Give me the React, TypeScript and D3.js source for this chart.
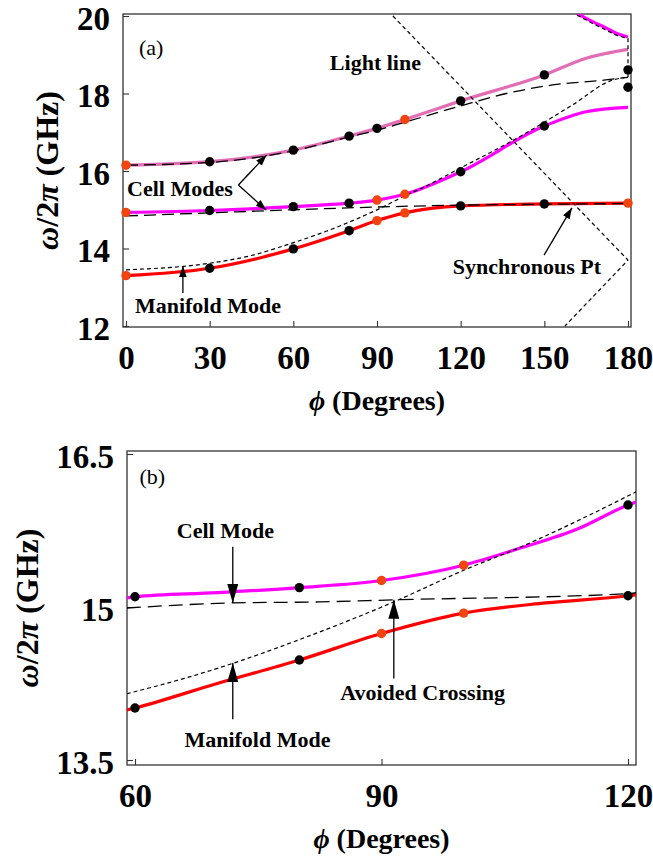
import React, { useRef, useEffect } from "react";
import * as d3 from "d3";

type Pt = [number, number];

// ---------- panel (a): 0..180 degrees ----------
const phiTicksA = [0, 30, 60, 90, 120, 150, 180];
const freqTicksA = [12, 14, 16, 18, 20];

// coupled modes (solid curves)
const manifoldCurveA: Pt[] = [[0, 13.3], [30, 13.49], [60, 13.99], [80, 14.46], [90, 14.72], [100, 14.92], [120, 15.1], [150, 15.15], [180, 15.17]];
const cellLowCurveA: Pt[] = [[0, 14.93], [30, 14.98], [60, 15.08], [80, 15.17], [90, 15.25], [100, 15.4], [120, 15.98], [150, 17.16], [165, 17.53], [180, 17.64]];
const cellHighCurveA: Pt[] = [[0, 16.15], [30, 16.24], [60, 16.54], [80, 16.9], [90, 17.1], [100, 17.33], [120, 17.81], [150, 18.48], [165, 18.91], [180, 19.14]];
const nextBandCurveA: Pt[] = [[161.6, 20.07], [167.5, 19.85], [172.4, 19.68], [176, 19.55], [180, 19.46]];

// uncoupled modes (dashed)
const uncCellLowA: Pt[] = [[0, 14.84], [30, 14.92], [60, 15.0], [90, 15.07], [120, 15.12], [150, 15.14], [180, 15.16]];
const uncCellHighA: Pt[] = [[0, 16.15], [30, 16.22], [60, 16.52], [80, 16.88], [90, 17.05], [100, 17.26], [120, 17.68], [137, 18.01], [153, 18.22], [172, 18.35], [180, 18.42]];
const uncManifoldA: Pt[] = [[0, 13.45], [30, 13.62], [45, 13.82], [60, 14.15], [72, 14.45], [80, 14.68], [91.5, 15.05], [100, 15.36], [107, 15.59], [120, 16.08], [141, 16.88], [160, 17.7], [174.6, 18.35], [180, 18.42]];
const uncManifoldFoldA: Pt[] = [[180, 18.42], [180, 19.42], [176, 19.5], [172, 19.64], [167, 19.82], [161, 20.05]];
const lightLineA: Pt[] = [[95.7, 20], [180, 13.7], [157.4, 12]];

// computed points
const manifoldBlackA: Pt[] = [[30, 13.49], [60, 13.99], [80, 14.46], [120, 15.1], [150, 15.15]];
const manifoldOrangeA: Pt[] = [[0, 13.3], [90, 14.72], [100, 14.92], [180, 15.17]];
const cellLowBlackA: Pt[] = [[30, 14.98], [60, 15.08], [80, 15.17], [120, 15.98], [150, 17.16]];
const cellLowOrangeA: Pt[] = [[0, 14.93], [90, 15.25], [100, 15.4]];
const cellHighBlackA: Pt[] = [[30, 16.24], [60, 16.54], [80, 16.9], [90, 17.1], [120, 17.81], [150, 18.48], [180, 18.61], [180, 18.16]];
const cellHighOrangeA: Pt[] = [[0, 16.15], [100, 17.33]];

// ---------- panel (b): zoom 60..120 degrees ----------
const phiTicksB = [60, 90, 120];
const freqTicksB = [13.5, 15, 16.5];

const manifoldCurveB: Pt[] = [[59, 13.99], [60, 14.01], [70, 14.25], [80, 14.48], [90, 14.74], [100, 14.94], [110, 15.04], [120, 15.11], [121, 15.12]];
const cellCurveB: Pt[] = [[59, 15.09], [60, 15.1], [70, 15.14], [80, 15.19], [90, 15.26], [100, 15.41], [107, 15.58], [114, 15.77], [120, 16.0], [121, 16.03]];
const uncCellB: Pt[] = [[59, 14.99], [72, 15.04], [82.5, 15.05], [91.5, 15.07], [120, 15.13], [121, 15.14]];
const uncManifoldB: Pt[] = [[59, 14.15], [66, 14.3], [72, 14.45], [80, 14.68], [91.5, 15.05], [100, 15.36], [107, 15.59], [114, 15.85], [121, 16.13]];

const manifoldBlackB: Pt[] = [[60, 14.01], [80, 14.48], [120, 15.11]];
const manifoldOrangeB: Pt[] = [[90, 14.74], [100, 14.94]];
const cellBlackB: Pt[] = [[60, 15.1], [80, 15.19], [120, 16.0]];
const cellOrangeB: Pt[] = [[90, 15.26], [100, 15.41]];

const FONT = "'Liberation Serif', 'Times New Roman', serif";
const RED = "#ff0000";
const MAGENTA = "#ff00ff";
const PINK = "#e26db5";
const ORANGE = "#f2440f";

interface PanelSpec {
  id: string;
  box: { left: number; right: number; top: number; bottom: number };
  xDomain: [number, number];
  xRange: [number, number];
  yDomain: [number, number];
  yRange: [number, number];
  xTicks: number[];
  yTicks: number[];
  yFormat: (v: number) => string;
  yLabelX: number;
}

export default function App() {
  const svgRef = useRef<SVGSVGElement>(null);

  useEffect(() => {
    if (!svgRef.current) return;
    const svg = d3.select(svgRef.current);
    svg.selectAll("*").remove();
    const defs = svg.append("defs");

    // arrow heads
    const addHead = (id: string, len: number, half: number) => {
      defs.append("marker")
        .attr("id", id)
        .attr("markerUnits", "userSpaceOnUse")
        .attr("viewBox", `0 0 ${len} ${half * 2}`)
        .attr("refX", len)
        .attr("refY", half)
        .attr("markerWidth", len)
        .attr("markerHeight", half * 2)
        .attr("orient", "auto")
        .append("path")
        .attr("d", `M0,0L${len},${half}L0,${half * 2}Z`)
        .attr("fill", "#000");
    };
    addHead("headA", 11, 3.8);
    addHead("headB", 19, 5.5);

    function setupPanel(spec: PanelSpec) {
      const { box } = spec;
      const x = d3.scaleLinear().domain(spec.xDomain).range(spec.xRange);
      const y = d3.scaleLinear().domain(spec.yDomain).range(spec.yRange);

      defs.append("clipPath")
        .attr("id", `${spec.id}-clip`)
        .append("rect")
        .attr("x", box.left)
        .attr("y", box.top)
        .attr("width", box.right - box.left)
        .attr("height", box.bottom - box.top);

      const g = svg.append("g");

      // bottom axis, ticks pointing inward
      const xa = g.append("g")
        .attr("transform", `translate(0,${box.bottom})`)
        .call(d3.axisBottom(x).tickValues(spec.xTicks).tickSize(-6).tickSizeOuter(0).tickPadding(19).tickFormat(d3.format("d")) as any);
      xa.select(".domain").remove();
      xa.selectAll("line").attr("stroke", "#333").attr("stroke-width", 1.1);
      xa.selectAll("text")
        .attr("font-family", FONT)
        .attr("font-size", 33)
        .attr("font-weight", "bold")
        .attr("fill", "#000");

      const ya = g.append("g")
        .attr("transform", `translate(${box.left},0)`)
        .call(d3.axisLeft(y).tickValues(spec.yTicks).tickSize(-6).tickSizeOuter(0).tickPadding(13).tickFormat(spec.yFormat as any) as any);
      ya.select(".domain").remove();
      ya.selectAll("line").attr("stroke", "#333").attr("stroke-width", 1.1);
      ya.selectAll("text")
        .attr("font-family", FONT)
        .attr("font-size", 33)
        .attr("font-weight", "bold")
        .attr("dy", "0.4em")
        .attr("fill", "#000");

      g.append("rect")
        .attr("x", box.left)
        .attr("y", box.top)
        .attr("width", box.right - box.left)
        .attr("height", box.bottom - box.top)
        .attr("fill", "none")
        .attr("stroke", "#333")
        .attr("stroke-width", 1.3);

      // axis titles
      const yl = g.append("text")
        .attr("transform", `translate(${spec.yLabelX},${(box.top + box.bottom) / 2}) rotate(-90)`)
        .attr("text-anchor", "middle")
        .attr("font-family", FONT)
        .attr("font-size", 32)
        .attr("font-weight", "bold");
      yl.append("tspan").attr("font-style", "italic").text("ω");
      yl.append("tspan").text("/2");
      yl.append("tspan").attr("font-style", "italic").text("π");
      yl.append("tspan").text(" (GHz)");

      const xl = g.append("text")
        .attr("x", (box.left + box.right) / 2)
        .attr("y", box.bottom + 83)
        .attr("text-anchor", "middle")
        .attr("font-family", FONT)
        .attr("font-size", 28)
        .attr("font-weight", "bold");
      xl.append("tspan").attr("font-style", "italic").text("ϕ");
      xl.append("tspan").text(" (Degrees)");

      const plot = g.append("g").attr("clip-path", `url(#${spec.id}-clip)`);
      return { x, y, g, plot };
    }

    type Panel = ReturnType<typeof setupPanel>;

    function drawSeries(p: Panel, data: Pt[], stroke: string, width: number, dash: string | null, curve: d3.CurveFactory = d3.curveMonotoneX) {
      const line = d3.line<Pt>()
        .x(d => p.x(d[0]))
        .y(d => p.y(d[1]))
        .curve(curve);
      p.plot.append("path")
        .attr("d", line(data) || "")
        .attr("fill", "none")
        .attr("stroke", stroke)
        .attr("stroke-width", width)
        .attr("stroke-dasharray", dash)
        .attr("stroke-linejoin", "round");
    }

    function drawDots(p: Panel, data: Pt[], fill: string) {
      p.g.append("g")
        .selectAll("circle")
        .data(data)
        .join("circle")
        .attr("cx", d => p.x(d[0]))
        .attr("cy", d => p.y(d[1]))
        .attr("r", 4.7)
        .attr("fill", fill);
    }

    function drawNote(p: Panel, label: string, at: Pt, anchor: string, size: number, weight = "bold") {
      p.g.append("text")
        .attr("x", p.x(at[0]))
        .attr("y", p.y(at[1]))
        .attr("dy", "0.35em")
        .attr("text-anchor", anchor)
        .attr("font-family", FONT)
        .attr("font-size", size)
        .attr("font-weight", weight)
        .text(label);
    }

    function drawArrow(p: Panel, from: Pt, to: Pt, head: string) {
      p.g.append("line")
        .attr("x1", p.x(from[0]))
        .attr("y1", p.y(from[1]))
        .attr("x2", p.x(to[0]))
        .attr("y2", p.y(to[1]))
        .attr("stroke", "#000")
        .attr("stroke-width", 1.3)
        .attr("marker-end", `url(#${head})`);
    }

    // ----- panel (a) -----
    const a = setupPanel({
      id: "pa",
      box: { left: 123, right: 631, top: 14, bottom: 327 },
      xDomain: [0, 180],
      xRange: [126, 628],
      yDomain: [12, 20],
      yRange: [326, 16],
      xTicks: phiTicksA,
      yTicks: freqTicksA,
      yFormat: d3.format("d"),
      yLabelX: 58,
    });

    drawSeries(a, manifoldCurveA, RED, 3.2, null);
    drawSeries(a, cellLowCurveA, MAGENTA, 3.2, null);
    drawSeries(a, cellHighCurveA, PINK, 3.2, null);
    drawSeries(a, nextBandCurveA, MAGENTA, 3.2, null);

    drawSeries(a, uncCellLowA, "#000", 1.3, "12,6");
    drawSeries(a, uncCellHighA, "#000", 1.3, "12,6");
    drawSeries(a, uncManifoldA, "#000", 1.2, "4,3");
    drawSeries(a, uncManifoldFoldA, "#000", 1.2, "4,3", d3.curveLinear);
    drawSeries(a, lightLineA, "#000", 1.2, "4,3", d3.curveLinear);

    drawDots(a, manifoldBlackA, "#000");
    drawDots(a, manifoldOrangeA, ORANGE);
    drawDots(a, cellLowBlackA, "#000");
    drawDots(a, cellLowOrangeA, ORANGE);
    drawDots(a, cellHighBlackA, "#000");
    drawDots(a, cellHighOrangeA, ORANGE);

    drawNote(a, "(a)", [9, 19.2], "middle", 22, "normal");
    drawNote(a, "Light line", [73.1, 18.81], "start", 22);
    drawNote(a, "Cell Modes", [0.4, 15.56], "start", 22);
    drawNote(a, "Manifold Mode", [3.2, 12.54], "start", 22);
    drawNote(a, "Synchronous Pt", [117.2, 13.55], "start", 22);
    drawArrow(a, [40.3, 15.64], [50.4, 16.41], "headA");
    drawArrow(a, [40.3, 15.64], [50.3, 14.99], "headA");
    drawArrow(a, [20.4, 12.85], [20.4, 13.55], "headA");
    drawArrow(a, [149.9, 13.83], [159.9, 15.05], "headA");

    // ----- panel (b) -----
    const b = setupPanel({
      id: "pb",
      box: { left: 127, right: 636, top: 451, bottom: 765 },
      xDomain: [60, 120],
      xRange: [135, 628],
      yDomain: [13.5, 16.5],
      yRange: [760, 454],
      xTicks: phiTicksB,
      yTicks: freqTicksB,
      yFormat: (v: number) => String(v),
      yLabelX: 38,
    });

    drawSeries(b, manifoldCurveB, RED, 3.2, null);
    drawSeries(b, cellCurveB, MAGENTA, 3.2, null);
    drawSeries(b, uncCellB, "#000", 1.3, "14,7");
    drawSeries(b, uncManifoldB, "#000", 1.2, "4,3");

    drawDots(b, manifoldBlackB, "#000");
    drawDots(b, manifoldOrangeB, ORANGE);
    drawDots(b, cellBlackB, "#000");
    drawDots(b, cellOrangeB, ORANGE);

    drawNote(b, "(b)", [62.1, 16.28], "middle", 22, "normal");
    drawNote(b, "Cell Mode", [71.0, 15.75], "middle", 22);
    drawNote(b, "Avoided Crossing", [95.0, 14.16], "middle", 22);
    drawNote(b, "Manifold Mode", [74.9, 13.7], "middle", 22);
    drawArrow(b, [71.9, 15.59], [71.9, 15.04], "headB");
    drawArrow(b, [91.5, 14.3], [91.5, 15.07], "headB");
    drawArrow(b, [71.9, 13.9], [71.9, 14.45], "headB");
  }, []);

  return (
    <svg
      ref={svgRef}
      width={653}
      height={860}
      style={{ position: "absolute", left: 0, top: 0, background: "#fff" }}
    />
  );
}
